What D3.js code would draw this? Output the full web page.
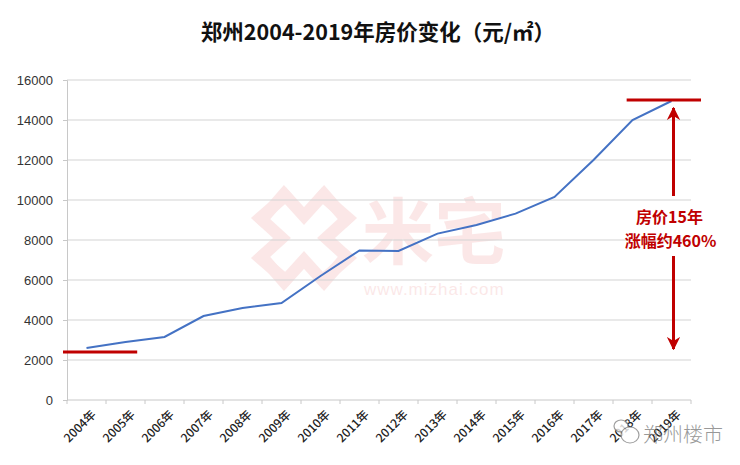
<!DOCTYPE html>
<html>
<head>
<meta charset="utf-8">
<script src="https://cdn.jsdelivr.net/npm/d3@7"></script>
<style>
  body { margin: 0; background: #fff; }
  svg { display: block; font-family: "Noto Sans CJK SC", "Noto Sans", sans-serif; }
</style>
</head>
<body>
<svg id="chart" width="740" height="465"></svg>
<script>
// values, yuan per square metre
const YEARS = ['2004年', '2005年', '2006年', '2007年', '2008年', '2009年', '2010年', '2011年',
  '2012年', '2013年', '2014年', '2015年', '2016年', '2017年', '2018年', '2019年'];
const PRICES = [2600, 2900, 3150, 4200, 4600, 4850, 6200, 7480, 7450, 8320, 8750, 9320, 10150, 12000, 14000, 14950];
const Y_TICKS = [0, 2000, 4000, 6000, 8000, 10000, 12000, 14000, 16000];
const START_LEVEL = 2400;
const END_LEVEL = 15000;

const RED = '#c00000';
const CJK = '"Noto Sans CJK SC", "Noto Sans", sans-serif';
const svg = d3.select('#chart');
const plotLeft = 67, plotRight = 691, plotTop = 80, plotBottom = 400;

const x = d3.scaleBand().domain(YEARS).range([plotLeft, plotRight]);
const y = d3.scaleLinear().domain([0, 16000]).range([plotBottom, plotTop]);
const cx = (d) => x(d) + x.bandwidth() / 2;

svg.append('text')
  .attr('x', 378).attr('y', 40)
  .attr('text-anchor', 'middle')
  .attr('fill', '#111')
  .style('font-family', CJK)
  .style('font-size', '21.5px').style('font-weight', '700')
  .text('郑州2004-2019年房价变化（元/㎡）');

// faint site watermark behind the plot
const wm = svg.append('g').attr('opacity', 0.11);
const logo = wm.append('g').attr('transform', 'translate(304,238)')
  .attr('stroke', '#e03030').attr('stroke-width', 12).attr('stroke-linejoin', 'miter').attr('fill', 'none');
[0, 90, 180, 270].forEach((a) => {
  logo.append('path').attr('transform', `rotate(${a})`)
    .attr('d', 'M-46,-14 L-20,-44 L0,-22 L20,-44 L46,-14');
});
wm.append('text').attr('x', 362).attr('y', 258)
  .attr('fill', '#e03030').style('font-family', CJK)
  .style('font-size', '72px').style('font-weight', '700').text('米宅');
wm.append('text').attr('x', 364).attr('y', 295)
  .attr('fill', '#e03030').style('font-family', '"Liberation Sans", Arial, sans-serif')
  .style('font-size', '17px').style('letter-spacing', '1px').text('www.mizhai.com');

// gridlines
svg.append('g')
  .selectAll('line')
  .data(Y_TICKS.filter((d) => d > 0))
  .join('line')
  .attr('x1', plotLeft).attr('x2', plotRight)
  .attr('y1', (d) => y(d)).attr('y2', (d) => y(d))
  .attr('stroke', '#d4d4d4').attr('stroke-width', 1.2);

const yAxis = svg.append('g')
  .attr('transform', `translate(${plotLeft},0)`)
  .call(d3.axisLeft(y).tickValues(Y_TICKS).tickSize(4).tickPadding(10).tickFormat(d3.format('d')));
yAxis.select('.domain').attr('stroke', '#c8c8c8');
yAxis.selectAll('.tick line').attr('stroke', '#c8c8c8');
yAxis.selectAll('text').attr('fill', '#333').style('font-size', '13px')
  .style('font-family', '"Liberation Sans", Arial, sans-serif');

const xAxis = svg.append('g').attr('transform', `translate(0,${plotBottom})`);
xAxis.append('line').attr('x1', plotLeft).attr('x2', plotRight).attr('stroke', '#c8c8c8');
xAxis.selectAll('line.tk')
  .data(d3.range(YEARS.length + 1))
  .join('line')
  .attr('class', 'tk')
  .attr('x1', (i) => plotLeft + i * x.bandwidth()).attr('x2', (i) => plotLeft + i * x.bandwidth())
  .attr('y1', 0).attr('y2', 4)
  .attr('stroke', '#c8c8c8');
xAxis.selectAll('text')
  .data(YEARS)
  .join('text')
  .attr('transform', (d) => `translate(${cx(d) + 4},9) rotate(-45)`)
  .attr('text-anchor', 'end')
  .attr('dy', '0.75em')
  .attr('fill', '#222')
  .style('font-family', CJK)
  .style('font-size', '12px')
  .style('font-weight', '500')
  .text((d) => d);

// price line
svg.append('path')
  .datum(PRICES)
  .attr('fill', 'none')
  .attr('stroke', '#4472c4')
  .attr('stroke-width', 2)
  .attr('d', d3.line().x((d, i) => cx(YEARS[i])).y((d) => y(d)));

// start / end markers
svg.append('line')
  .attr('x1', plotLeft - 4).attr('x2', x(YEARS[1]) + x.bandwidth() * 0.8)
  .attr('y1', y(START_LEVEL)).attr('y2', y(START_LEVEL))
  .attr('stroke', RED).attr('stroke-width', 3);
svg.append('line')
  .attr('x1', x(YEARS[14]) + x.bandwidth() * 0.35).attr('x2', plotRight + 10)
  .attr('y1', y(END_LEVEL)).attr('y2', y(END_LEVEL))
  .attr('stroke', RED).attr('stroke-width', 3);

svg.append('defs').append('marker')
  .attr('id', 'arrowhead')
  .attr('viewBox', '0 0 10 10')
  .attr('refX', 9).attr('refY', 5)
  .attr('markerWidth', 4.5).attr('markerHeight', 4.5)
  .attr('markerUnits', 'strokeWidth')
  .attr('orient', 'auto')
  .append('path')
  .attr('d', 'M0,0 L10,5 L0,10 L3,5 z')
  .attr('fill', RED);

const ax = cx(YEARS[15]) + 2;
svg.append('line')
  .attr('x1', ax).attr('x2', ax)
  .attr('y1', 196).attr('y2', y(END_LEVEL) + 8)
  .attr('stroke', RED).attr('stroke-width', 3)
  .attr('marker-end', 'url(#arrowhead)');
svg.append('line')
  .attr('x1', ax).attr('x2', ax)
  .attr('y1', 256).attr('y2', 349)
  .attr('stroke', RED).attr('stroke-width', 3)
  .attr('marker-end', 'url(#arrowhead)');

const note = svg.append('text')
  .attr('text-anchor', 'middle')
  .attr('fill', RED)
  .style('font-family', CJK)
  .style('font-size', '16px').style('font-weight', '700');
note.append('tspan').attr('x', ax - 4).attr('y', 223).text('房价15年');
note.append('tspan').attr('x', ax - 3).attr('y', 246.5).text('涨幅约460%');

// wechat tag
const tag = svg.append('g').attr('opacity', 0.8);
tag.append('ellipse').attr('cx', 621).attr('cy', 426).attr('rx', 7).attr('ry', 6)
  .attr('fill', '#fff').attr('stroke', '#888').attr('stroke-width', 1.2);
tag.append('ellipse').attr('cx', 630).attr('cy', 435).attr('rx', 9).attr('ry', 8)
  .attr('fill', '#fff').attr('stroke', '#888').attr('stroke-width', 1.2);
tag.append('text').attr('x', 643).attr('y', 442)
  .attr('fill', '#808080').style('font-family', CJK)
  .style('font-size', '20px').style('font-weight', '300').text('郑州楼市');
</script>
</body>
</html>
